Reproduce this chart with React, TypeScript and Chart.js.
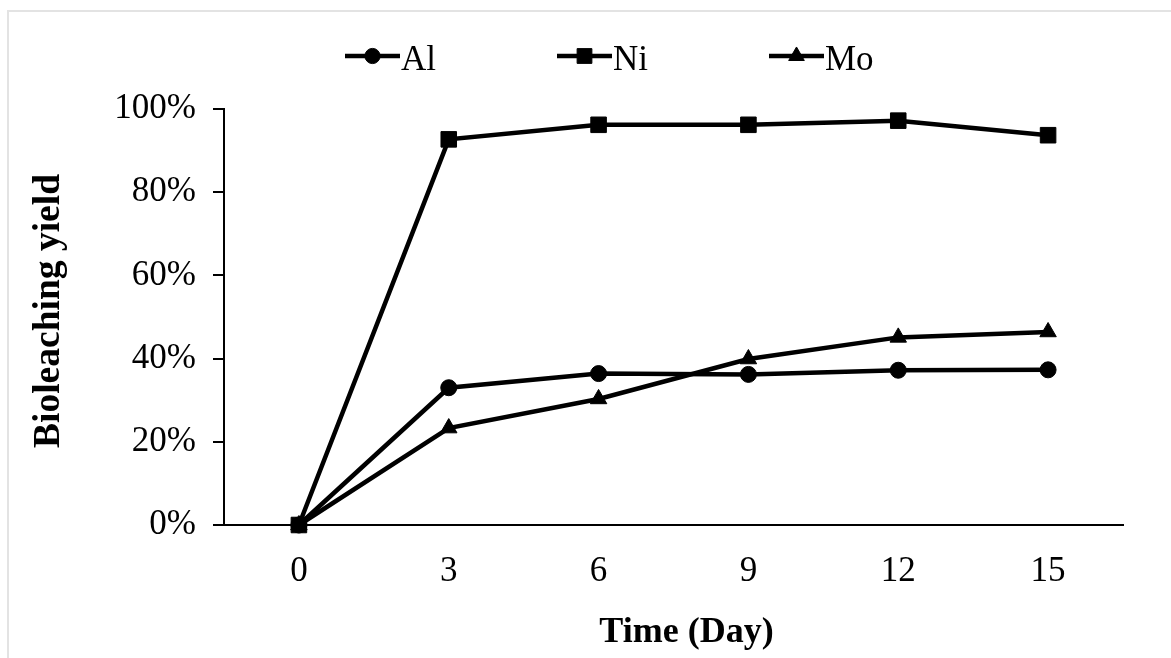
import React, { useEffect, useRef } from "react";
import { Chart, registerables } from "chart.js";
import { drawPoint } from "chart.js/helpers";

Chart.register(...registerables);

// ---- data ----
const days = ["0", "3", "6", "9", "12", "15"];
const alYield = [0, 33.0, 36.4, 36.2, 37.2, 37.3];
const niYield = [0, 92.7, 96.2, 96.2, 97.2, 93.7];
const moYield = [0, 23.3, 30.3, 39.9, 45.1, 46.4];
const yMin = 0;
const yMax = 100;
const yStep = 20;
const seriesNames = ["Al", "Ni", "Mo"];
const xTitle = "Time (Day)";
const yTitle = "Bioleaching yield";

const W = 1171;
const H = 658;
const SERIF = '"Liberation Serif", "Times New Roman", Times, serif';

const markerSpec: Record<string, { style: string; radius: number }> = {
  Al: { style: "circle", radius: 8 },
  Ni: { style: "rect", radius: 11 },
  Mo: { style: "triangle", radius: 9.5 },
};

const lineLegendPlugin = {
  id: "lineLegend",
  afterDraw(chart: any) {
    const ctx = chart.ctx as CanvasRenderingContext2D;
    const area = chart.chartArea;
    const lineY = 56;
    const lineLen = 55;
    const gap = 121;
    let x = area.left + 121;
    ctx.save();
    ctx.font = `35px ${SERIF}`;
    ctx.textBaseline = "alphabetic";
    ctx.textAlign = "left";
    chart.data.datasets.forEach((ds: any) => {
      ctx.strokeStyle = "#000";
      ctx.fillStyle = "#000";
      ctx.lineWidth = 4.5;
      ctx.beginPath();
      ctx.moveTo(x, lineY);
      ctx.lineTo(x + lineLen, lineY);
      ctx.stroke();
      const spec = markerSpec[ds.label];
      ctx.lineWidth = 1;
      drawPoint(ctx, { pointStyle: spec.style as any, radius: spec.radius * 0.95, rotation: 0, borderWidth: 1 }, x + lineLen / 2, lineY);
      ctx.fillStyle = "#000";
      ctx.fillText(ds.label, x + lineLen + 1, lineY + 14);
      const tw = ctx.measureText(ds.label).width;
      x += lineLen + 1 + tw + gap;
    });

    // axis titles
    ctx.fillStyle = "#000";
    ctx.textAlign = "center";
    ctx.textBaseline = "alphabetic";
    ctx.font = `bold 36px ${SERIF}`;
    ctx.fillText(xTitle, (area.left + area.right) / 2 + 13, 642);

    ctx.save();
    ctx.translate(59, (area.top + area.bottom) / 2 - 6);
    ctx.rotate(-Math.PI / 2);
    ctx.font = `bold 37.5px ${SERIF}`;
    ctx.fillText(yTitle, 0, 0);
    ctx.restore();

    ctx.restore();
  },
};

export default function App() {
  const ref = useRef<HTMLCanvasElement | null>(null);

  useEffect(() => {
    const canvas = ref.current;
    if (!canvas) return;
    const seriesValues = [alYield, niYield, moYield];
    const datasets = seriesNames.map((name, i) => ({
      label: name,
      data: seriesValues[i],
      borderColor: "#000",
      backgroundColor: "#000",
      borderWidth: 4.5,
      pointStyle: markerSpec[name].style as any,
      pointRadius: markerSpec[name].radius,
      pointBorderWidth: 1,
      pointBorderColor: "#000",
      pointBackgroundColor: "#000",
      tension: 0,
      clip: false as any,
      order: name === "Ni" ? -1 : 0,
    }));

    const chart = new Chart(canvas, {
      type: "line",
      data: { labels: days, datasets },
      options: {
        responsive: false,
        animation: false,
        devicePixelRatio: 1,
        events: [],
        layout: { padding: { top: 109, right: 48, left: 0, bottom: 0 } },
        plugins: {
          legend: { display: false },
          tooltip: { enabled: false },
        },
        scales: {
          x: {
            type: "category",
            offset: true,
            grid: { display: false, drawTicks: false },
            border: { display: true, color: "#000", width: 2 },
            ticks: {
              color: "#000",
              font: { family: SERIF, size: 35 },
              padding: 26,
              maxRotation: 0,
            },
            title: { display: false, text: xTitle },
            afterFit: (s: any) => {
              s.height = 133;
            },
          },
          y: {
            min: yMin,
            max: yMax,
            ticks: {
              stepSize: yStep,
              color: "#000",
              font: { family: SERIF, size: 35 },
              padding: 17,
              callback: (v: any) => `${v}%`,
            },
            grid: {
              drawOnChartArea: false,
              drawTicks: true,
              tickLength: 11,
              color: "#000",
              lineWidth: 2,
            },
            border: { display: true, color: "#000", width: 2 },
            title: { display: false, text: yTitle },
            afterFit: (s: any) => {
              s.width = 224;
            },
          },
        },
      },
      plugins: [lineLegendPlugin],
    });
    return () => chart.destroy();
  }, []);

  return (
    <div style={{ position: "absolute", left: 0, top: 0, width: W, height: H, overflow: "hidden", background: "#fff" }}>
      <canvas ref={ref} width={W} height={H} style={{ position: "absolute", left: 0, top: 0, width: W, height: H }} />
      <div
        style={{
          position: "absolute",
          left: 7,
          top: 10,
          width: W - 7,
          height: H - 10,
          boxSizing: "border-box",
          borderLeft: "2px solid #e3e3e3",
          borderTop: "2px solid #e3e3e3",
          pointerEvents: "none",
        }}
      />
    </div>
  );
}
